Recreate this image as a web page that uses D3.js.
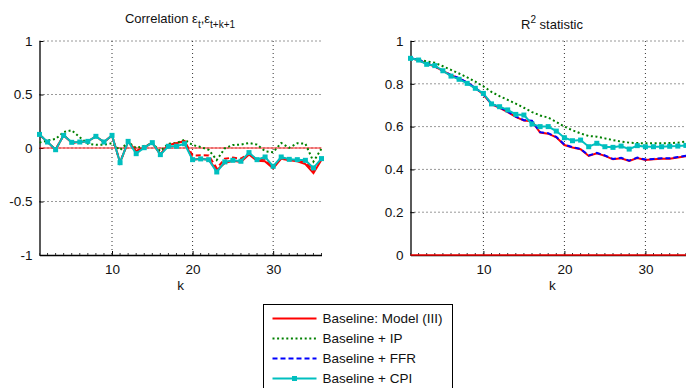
<!DOCTYPE html>
<html>
<head>
<meta charset="utf-8">
<script src="https://cdn.jsdelivr.net/npm/d3@7"></script>
<style>
  body { margin: 0; background: #fff; }
  svg { font-family: "Liberation Sans", Arial, sans-serif; }
</style>
</head>
<body>
<div id="chart-container"></div>
<script>
const kValues = [1, 2, 3, 4, 5, 6, 7, 8, 9, 10, 11, 12, 13, 14, 15, 16, 17, 18,
  19, 20, 21, 22, 23, 24, 25, 26, 27, 28, 29, 30, 31, 32, 33, 34, 35, 36]

// left panel: correlation of errors
const corrBaseline = [0.125, 0.055, -0.015, 0.12, 0.05, 0.055, 0.062, 0.108, 0.055, 0.118, -0.135, 0.06,
  -0.03, 0.005, 0.05, -0.06, 0.03, 0.045, 0.065, -0.11, -0.1, -0.11, -0.208, -0.14,
  -0.12, -0.13, -0.06, -0.12, -0.125, -0.19, -0.1, -0.115, -0.125, -0.15, -0.235, -0.11]
const corrIP = [0.05, 0.07, 0.085, 0.15, 0.165, 0.1, 0.04, 0.03, 0.03, 0.045, -0.02, 0.056,
  0, 0.02, 0.04, -0.028, 0.04, 0.047, 0.078, 0.028, 0.01, -0.018, -0.112, -0.003,
  0.028, 0.032, 0.047, 0.032, -0.03, -0.04, 0.047, 0.002, 0.044, 0.04, -0.127, -0.006]
const corrFFR = [0.125, 0.055, -0.015, 0.12, 0.05, 0.055, 0.062, 0.108, 0.055, 0.118, -0.135, 0.06,
  -0.03, 0.005, 0.05, -0.06, 0.03, 0.045, 0.065, -0.07, -0.068, -0.07, -0.19, -0.1,
  -0.09, -0.1, -0.05, -0.11, -0.11, -0.18, -0.09, -0.11, -0.115, -0.13, -0.21, -0.1]
const corrCPI = [0.127, 0.056, -0.016, 0.118, 0.053, 0.056, 0.062, 0.109, 0.056, 0.118, -0.137, 0.062,
  -0.053, 0.003, 0.05, -0.062, 0.016, 0.016, 0.04, -0.109, -0.102, -0.109, -0.224, -0.13,
  -0.115, -0.124, -0.043, -0.109, -0.084, -0.171, -0.084, -0.106, -0.109, -0.115, -0.186, -0.099]

// right panel: R^2
const r2Baseline = [0.92, 0.91, 0.895, 0.88, 0.86, 0.84, 0.825, 0.805, 0.78, 0.75, 0.705, 0.688,
  0.668, 0.645, 0.628, 0.625, 0.572, 0.567, 0.55, 0.514, 0.502, 0.494, 0.463, 0.475,
  0.463, 0.447, 0.452, 0.439, 0.453, 0.444, 0.447, 0.45, 0.45, 0.456, 0.462, 0.466]
const r2IP = [0.92, 0.912, 0.905, 0.898, 0.882, 0.865, 0.848, 0.83, 0.81, 0.788, 0.762, 0.742,
  0.725, 0.707, 0.688, 0.668, 0.652, 0.642, 0.622, 0.6, 0.583, 0.568, 0.556, 0.553,
  0.545, 0.537, 0.53, 0.525, 0.523, 0.522, 0.522, 0.522, 0.523, 0.525, 0.53, 0.535]
const r2FFR = [0.921, 0.911, 0.896, 0.881, 0.861, 0.841, 0.826, 0.806, 0.781, 0.751, 0.707, 0.69,
  0.67, 0.647, 0.63, 0.627, 0.574, 0.569, 0.552, 0.516, 0.504, 0.496, 0.465, 0.477,
  0.465, 0.449, 0.454, 0.441, 0.455, 0.446, 0.449, 0.452, 0.452, 0.458, 0.464, 0.468]
const r2CPI = [0.919, 0.911, 0.891, 0.885, 0.861, 0.836, 0.821, 0.802, 0.779, 0.755, 0.706, 0.693,
  0.678, 0.657, 0.654, 0.612, 0.6, 0.6, 0.579, 0.548, 0.534, 0.537, 0.506, 0.522,
  0.506, 0.503, 0.509, 0.495, 0.511, 0.506, 0.506, 0.506, 0.508, 0.509, 0.512, 0.515]

const xTicks = [10, 20, 30]
const corrTicks = [-1, -0.5, 0, 0.5, 1]
const r2Ticks = [0, 0.2, 0.4, 0.6, 0.8, 1]
const legendLabels = ["Baseline: Model (III)", "Baseline + IP", "Baseline + FFR", "Baseline + CPI"]

const red = "#ff0000", green = "#008000", blue = "#0000ff", cyan = "#00bfbf"

const svg = d3.select("#chart-container")
  .append("svg")
    .attr("width", 686)
    .attr("height", 388)

function drawPanel(opts) {
  const x = d3.scaleLinear().domain([1, 36]).range(opts.xRange)
  const y = d3.scaleLinear().domain(opts.yDomain).range([255, 41])
  const g = svg.append("g")

  // dotted grid
  g.selectAll(".hgrid")
    .data(opts.yTicks.filter(t => t !== opts.yDomain[0]))
    .join("line")
      .attr("x1", x(1)).attr("x2", x(36))
      .attr("y1", d => y(d)).attr("y2", d => y(d))
      .attr("stroke", "#333").attr("stroke-width", 1)
      .attr("stroke-dasharray", "1,3")
  g.selectAll(".vgrid")
    .data(xTicks)
    .join("line")
      .attr("x1", d => x(d)).attr("x2", d => x(d))
      .attr("y1", y.range()[1]).attr("y2", y.range()[0])
      .attr("stroke", "#333").attr("stroke-width", 1)
      .attr("stroke-dasharray", "1,3")

  // axes (ticks inside like matlab)
  const xAxis = g.append("g")
    .attr("transform", `translate(0,${y.range()[0]})`)
    .call(d3.axisBottom(x).tickValues(xTicks).tickSizeInner(-4).tickSizeOuter(0).tickPadding(9).tickFormat(d => String(d)))
  const yAxis = g.append("g")
    .attr("transform", `translate(${x(1)},0)`)
    .call(d3.axisLeft(y).tickValues(opts.yTicks).tickSizeInner(-4).tickSizeOuter(0).tickPadding(7).tickFormat(d => String(d)))
  for (const ax of [xAxis, yAxis]) {
    ax.select(".domain").attr("stroke", "#000").attr("stroke-width", 1.3)
    ax.selectAll("text").attr("font-size", 13.5).attr("font-family", "Liberation Sans, Arial, sans-serif").attr("fill", "#111")
  }
  // minor ticks every k
  g.selectAll(".minor")
    .data(kValues)
    .join("line")
      .attr("x1", d => x(d)).attr("x2", d => x(d))
      .attr("y1", y.range()[0]).attr("y2", y.range()[0] - 2)
      .attr("stroke", "#333").attr("stroke-width", 1)

  const line = vals => d3.line()
    .x((d, i) => x(kValues[i]))
    .y(d => y(d))(vals)

  // zero reference line
  g.append("line")
    .attr("x1", x(1)).attr("x2", x(36))
    .attr("y1", y(0)).attr("y2", y(0))
    .attr("stroke", red).attr("stroke-width", opts.zeroWidth)
    .attr("opacity", opts.zeroOpacity)

  g.append("path").attr("d", line(opts.baseline))
    .attr("fill", "none").attr("stroke", red).attr("stroke-width", 2)
  g.append("path").attr("d", line(opts.ip))
    .attr("fill", "none").attr("stroke", green).attr("stroke-width", 2)
    .attr("stroke-dasharray", "2,2.6")
  g.append("path").attr("d", line(opts.ffr))
    .attr("fill", "none").attr("stroke", opts.ffrColor).attr("stroke-width", 2)
    .attr("stroke-dasharray", "5,3")
  g.append("path").attr("d", line(opts.cpi))
    .attr("fill", "none").attr("stroke", cyan).attr("stroke-width", 2)
  g.selectAll(".mark")
    .data(opts.cpi)
    .join("rect")
      .attr("x", (d, i) => x(kValues[i]) - 2.5)
      .attr("y", d => y(d) - 2.5)
      .attr("width", 5).attr("height", 5)
      .attr("fill", cyan)

  // labels
  g.append("text")
    .attr("x", (x(1) + x(36)) / 2).attr("y", 290)
    .attr("text-anchor", "middle").attr("font-size", 13.5).attr("fill", "#111")
    .text("k")
  const title = g.append("text")
    .attr("x", opts.titleX).attr("y", opts.titleY)
    .attr("text-anchor", "middle").attr("font-size", 13).attr("fill", "#111")
  opts.title(title)
}

drawPanel({
  xRange: [39.5, 321.5], yDomain: [-1, 1], yTicks: corrTicks,
  baseline: corrBaseline, ip: corrIP, ffr: corrFFR, cpi: corrCPI,
  ffrColor: red, zeroWidth: 1.5, zeroOpacity: 0.6,
  titleX: 180, titleY: 23,
  title: t => {
    t.append("tspan").text("Correlation ε")
    t.append("tspan").attr("dy", 5).attr("font-size", 10).text("t")
    t.append("tspan").attr("dy", -5).text(",ε")
    t.append("tspan").attr("dy", 5).attr("font-size", 10).text("t+k+1")
  }
})

drawPanel({
  xRange: [410.5, 694], yDomain: [0, 1], yTicks: r2Ticks,
  baseline: r2Baseline, ip: r2IP, ffr: r2FFR, cpi: r2CPI,
  ffrColor: blue, zeroWidth: 2, zeroOpacity: 0.7,
  titleX: 552, titleY: 29,
  title: t => {
    t.append("tspan").text("R")
    t.append("tspan").attr("dy", -6).attr("font-size", 10).text("2")
    t.append("tspan").attr("dy", 6).text(" statistic")
  }
})

// legend
const legend = svg.append("g").attr("transform", "translate(263.5,304.5)")
legend.append("rect")
  .attr("width", 189).attr("height", 100)
  .attr("fill", "#fff").attr("stroke", "#000").attr("stroke-width", 1)
const legendStyles = [
  { color: red, dash: null },
  { color: green, dash: "2,2.6" },
  { color: blue, dash: "5,3" },
  { color: cyan, dash: null, marker: true }
]
legendLabels.forEach((lab, i) => {
  const yy = 14 + i * 20
  const st = legendStyles[i]
  legend.append("line")
    .attr("x1", 9).attr("x2", 53).attr("y1", yy).attr("y2", yy)
    .attr("stroke", st.color).attr("stroke-width", 2)
    .attr("stroke-dasharray", st.dash)
  if (st.marker) {
    legend.append("rect").attr("x", 28.5).attr("y", yy - 2.5)
      .attr("width", 5).attr("height", 5).attr("fill", st.color)
  }
  legend.append("text")
    .attr("x", 59).attr("y", yy).attr("dy", "0.35em")
    .attr("font-size", 13.5).attr("fill", "#111")
    .text(lab)
})
</script>
</body>
</html>
